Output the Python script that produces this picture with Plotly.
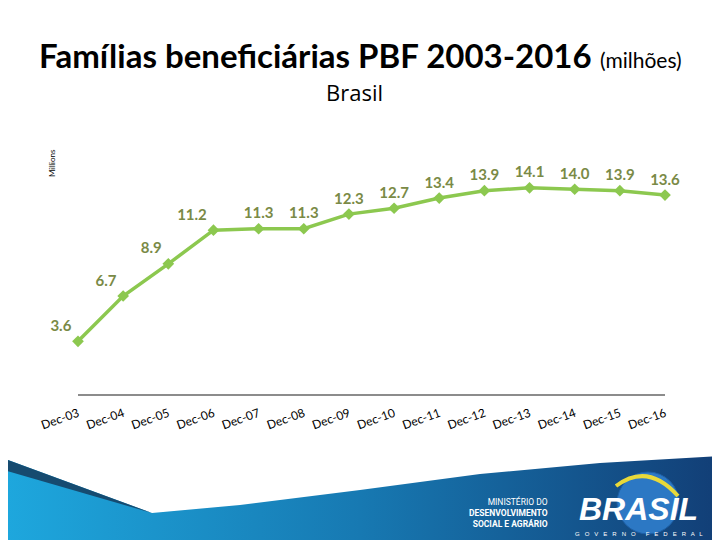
import plotly.graph_objects as go

# ---------------- data ----------------
categories = ["Dec-03", "Dec-04", "Dec-05", "Dec-06", "Dec-07", "Dec-08", "Dec-09",
              "Dec-10", "Dec-11", "Dec-12", "Dec-13", "Dec-14", "Dec-15", "Dec-16"]
families_millions = [3.6, 6.7, 8.9, 11.2, 11.3, 11.3, 12.3,
                     12.7, 13.4, 13.9, 14.1, 14.0, 13.9, 13.6]
value_labels = [f"{v:.1f}" for v in families_millions]

title_text = "Famílias beneficiárias PBF 2003-2016"
title_unit = "(milhões)"
subtitle_text = "Brasil"
axis_title = "Millions"

# ---------------- styles ----------------
W, H = 720, 540
OFF = 8  # page body margin: figure is drawn 8px right/down


def px(x):
    return (x - OFF) / W


def py(y):
    return 1 - (y - OFF) / H


LINE_GREEN = "#8CC84F"
LABEL_OLIVE = "#7A8A46"
label_positions = ["top left"] * 4 + ["top center"] * 10

fig = go.Figure()

# decorative banner (screen-pixel coordinates on hidden overlay axes)
banner_x = [0, 152, 240, 360, 480, 600, 720, 720, 0]
banner_y = [457, 513, 505, 490, 474, 463, 456, 548, 548]
fig.add_trace(go.Scatter(
    x=banner_x, y=banner_y, xaxis="x2", yaxis="y2",
    mode="lines", fill="toself", line=dict(width=0),
    fillgradient=dict(type="horizontal",
                      colorscale=[[0, "#1EA8DE"], [0.5, "#1779B2"], [1, "#123E76"]]),
    hoverinfo="skip", showlegend=False,
))

# main series
fig.add_trace(go.Scatter(
    x=categories, y=families_millions,
    mode="lines+markers+text",
    text=value_labels, textposition=label_positions,
    textfont=dict(family="Lato", size=15, color=LABEL_OLIVE, weight="bold"),
    line=dict(color=LINE_GREEN, width=3.5),
    marker=dict(symbol="diamond", size=9, color=LINE_GREEN),
    cliponaxis=False, hoverinfo="skip", showlegend=False,
))

shapes = [
    dict(type="path", xref="x2", yref="y2",
         path="M 0 457 L 152 513 L 0 469 Z",
         fillcolor="#164B70", line=dict(width=0)),
    dict(type="circle", xref="x2", yref="y2", x0=617, x1=679, y0=472, y1=534,
         fillcolor="#2C78C4", line=dict(color="#1D5FA6", width=1)),
    dict(type="path", xref="x2", yref="y2",
         path="M 616 486 Q 648 462 678 496",
         line=dict(color="#E8D93A", width=4)),
]

annotations = [
    dict(xref="paper", yref="paper", x=px(360), y=py(55), xanchor="center", yanchor="middle",
         text=f"<b>{title_text}</b> <span style='font-size:21px'>{title_unit}</span>",
         showarrow=False, font=dict(family="Lato", size=33, color="#000000")),
    dict(xref="paper", yref="paper", x=px(354), y=py(92), xanchor="center", yanchor="middle",
         text=subtitle_text, showarrow=False,
         font=dict(family="Open Sans", size=22, color="#000000")),
    dict(xref="paper", yref="paper", x=px(52), y=py(163), xanchor="center", yanchor="middle",
         text=axis_title, textangle=-90, showarrow=False,
         font=dict(family="Lato", size=8, color="#000000")),
    dict(xref="x2", yref="y2", x=550, y=512, xanchor="right", yanchor="middle", align="right",
         text="MINISTÉRIO DO<br><b>DESENVOLVIMENTO</b><br><b>SOCIAL E AGRÁRIO</b>",
         showarrow=False,
         font=dict(family="Roboto", size=8.5, color="#FFFFFF")),
    dict(xref="x2", yref="y2", x=638, y=509, xanchor="center", yanchor="middle",
         text="<b><i>BRASIL</i></b>", showarrow=False,
         font=dict(family="Liberation Sans", size=32, color="#FFFFFF")),
    dict(xref="x2", yref="y2", x=639, y=534, xanchor="center", yanchor="middle",
         text="G   O   V   E   R   N   O      F   E   D   E   R   A   L", showarrow=False,
         font=dict(family="Liberation Sans", size=6, color="#FFFFFF")),
]

fig.update_layout(
    width=W, height=H,
    margin=dict(l=0, r=0, t=0, b=0, autoexpand=False),
    paper_bgcolor="#FFFFFF", plot_bgcolor="rgba(0,0,0,0)",
    showlegend=False,
    xaxis=dict(domain=[px(78), px(665)], range=[0, 13], type="category",
               showline=True, linecolor="#8C8C8C", linewidth=2,
               showgrid=False, zeroline=False, ticks="", automargin=False,
               tickangle=-20, ticklabelstandoff=6,
               tickfont=dict(family="Lato", size=12, color="#000000"),
               fixedrange=True),
    yaxis=dict(domain=[py(394), py(160)], range=[0, 16], visible=False,
               showgrid=False, zeroline=False, automargin=False, fixedrange=True),
    xaxis2=dict(domain=[0, 1], range=[OFF, W + OFF], anchor="y2", visible=False,
                automargin=False, fixedrange=True),
    yaxis2=dict(domain=[0, 1], range=[H + OFF, OFF], anchor="x2", visible=False,
                automargin=False, fixedrange=True),
    shapes=shapes,
    annotations=annotations,
)

fig.write_html("out.html")
